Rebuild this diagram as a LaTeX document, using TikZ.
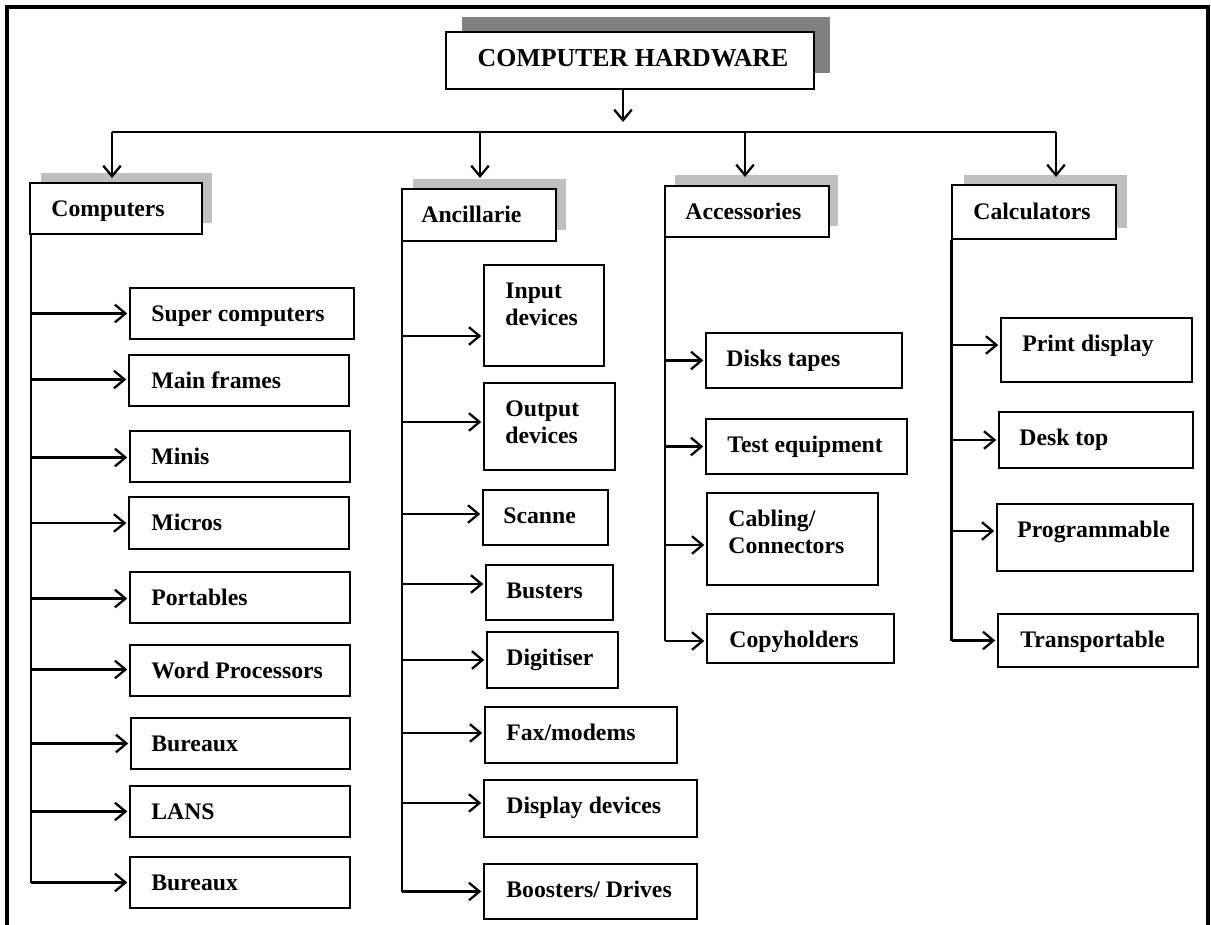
\documentclass[tikz,border=0pt]{standalone}
\usepackage{fontspec}
\setmainfont{Liberation Serif}
\usetikzlibrary{arrows.meta,fit,calc}
\begin{document}
\begin{tikzpicture}[x=0.02cm,y=-0.02cm,
  box/.style={draw=black, line width=1.1pt, fill=white, inner sep=0pt},
  topbox/.style={draw=black, line width=1.6pt, fill=white, inner sep=0pt},
  darkshadow/.style={fill=black!50, draw=none, inner sep=0pt},
  lightshadow/.style={fill=black!25, draw=none, inner sep=0pt},
  lbl/.style={anchor=base west, inner sep=0pt, font=\fontsize{13.5}{15.3}\selectfont\bfseries, align=left},
  conn/.style={line width=1.3pt},
  arr/.style={conn, -{Straight Barb[length=6pt,width=10pt,line width=1.3pt]}, shorten >=1pt},
  frame/.style={line width=1.9pt}]

\useasboundingbox (0,0) rectangle (1211,924);

% outer frame (open at the bottom)
\draw[frame] (7,930) -- (7,7) -- (1208,7) -- (1208,930);

% ---------- title ----------
\node[darkshadow, fit={(462,17) (830,73)}] (title-sh) {};
\node[topbox, fit={(446,32) (814,89)}] (title) {};
\node[anchor=base, inner sep=0pt, font=\fontsize{14.7}{17}\selectfont\bfseries] (title-l)
  at ($(title.north)+(3,36)$) {COMPUTER HARDWARE};

% ---------- category boxes ----------
\node[lightshadow, fit={(41,173) (212,223)}] (comp-sh) {};
\node[box, fit={(30,183) (202,234)}] (comp) {};
\node[lbl] (comp-l) at ($(comp.north west)+(22,34)$) {Computers};

\node[lightshadow, fit={(413,179) (566,230)}] (anc-sh) {};
\node[box, fit={(402,189) (556,241)}] (anc) {};
\node[lbl] (anc-l) at ($(anc.north west)+(20,34)$) {Ancillarie};

\node[lightshadow, fit={(675,175) (838,226)}] (acc-sh) {};
\node[box, fit={(665,186) (829,237)}] (acc) {};
\node[lbl] (acc-l) at ($(acc.north west)+(21,34)$) {Accessories};

\node[lightshadow, fit={(964,175) (1127,228)}] (calc-sh) {};
\node[box, fit={(952,185) (1116,239)}] (calc) {};
\node[lbl] (calc-l) at ($(calc.north west)+(22,35)$) {Calculators};

% ---------- distribution bus ----------
\coordinate (tip0) at (623,122);
\draw[arr, shorten >=0pt] (title.south -| tip0) -- (tip0);
\coordinate (bus-a) at (112,132);
\coordinate (bus-b) at (480,132);
\coordinate (bus-c) at (745,132);
\coordinate (bus-d) at (1056,132);
\coordinate (tip-a) at (112,178);
\coordinate (tip-b) at (480,178);
\coordinate (tip-c) at (745,177);
\coordinate (tip-d) at (1056,177);
\draw[conn] (bus-a) -- (bus-d);
\draw[arr, shorten >=0pt] (bus-a) -- (tip-a);
\draw[arr, shorten >=0pt] (bus-b) -- (tip-b);
\draw[arr, shorten >=0pt] (bus-c) -- (tip-c);
\draw[arr, shorten >=0pt] (bus-d) -- (tip-d);

% ---------- Computers ----------
\node[box, fit={(130,288) (354,339)}] (sc) {};
\node[lbl] (sc-l) at ($(sc.north west)+(22,34)$) {Super computers};
\node[box, fit={(129,355) (349,406)}] (mf) {};
\node[lbl] (mf-l) at ($(mf.north west)+(23,34)$) {Main frames};
\node[box, fit={(130,431) (350,482)}] (mn) {};
\node[lbl] (mn-l) at ($(mn.north west)+(22,34)$) {Minis};
\node[box, fit={(129,497) (349,549)}] (mc) {};
\node[lbl] (mc-l) at ($(mc.north west)+(23,34)$) {Micros};
\node[box, fit={(130,572) (350,623)}] (pt) {};
\node[lbl] (pt-l) at ($(pt.north west)+(22,34)$) {Portables};
\node[box, fit={(130,645) (350,696)}] (wp) {};
\node[lbl] (wp-l) at ($(wp.north west)+(22,34)$) {Word Processors};
\node[box, fit={(131,718) (350,769)}] (bua) {};
\node[lbl] (bua-l) at ($(bua.north west)+(21,34)$) {Bureaux};
\node[box, fit={(130,786) (350,837)}] (ln) {};
\node[lbl] (ln-l) at ($(ln.north west)+(22,34)$) {LANS};
\node[box, fit={(130,857) (350,908)}] (bub) {};
\node[lbl] (bub-l) at ($(bub.north west)+(22,34)$) {Bureaux};

\coordinate (comp-t) at ($(comp.south west)+(2,0)$);
\foreach \n/\d in {sc/0, mf/-1, mn/1, mc/0, pt/1, wp/-1, bua/0, ln/0, bub/0} {
  \coordinate (\n-in) at ($(\n.west)+(0,\d)$);
  \draw[arr] (comp-t |- \n-in) -- (\n-in);
}
\draw[conn] (comp-t) -- (comp-t |- bub-in);

% ---------- Ancillarie ----------
% two-line labels are placed by the baseline of their last line
\node[box, fit={(484,265) (604,366)}] (inp) {};
\node[lbl] (inp-l) at ($(inp.north west)+(22,61)$) {Input\\devices};
\node[box, fit={(484,383) (615,470)}] (outp) {};
\node[lbl] (outp-l) at ($(outp.north west)+(22,61)$) {Output\\devices};
\node[box, fit={(483,490) (608,545)}] (sca) {};
\node[lbl] (sca-l) at ($(sca.north west)+(21,34)$) {Scanne};
\node[box, fit={(486,565) (613,620)}] (bus) {};
\node[lbl] (bus-l) at ($(bus.north west)+(21,34)$) {Busters};
\node[box, fit={(487,632) (618,688)}] (dig) {};
\node[lbl] (dig-l) at ($(dig.north west)+(20,34)$) {Digitiser};
\node[box, fit={(485,707) (677,763)}] (fax) {};
\node[lbl] (fax-l) at ($(fax.north west)+(22,34)$) {Fax/modems};
\node[box, fit={(484,780) (697,837)}] (dsp) {};
\node[lbl] (dsp-l) at ($(dsp.north west)+(23,34)$) {Display devices};
\node[box, fit={(484,864) (697,919)}] (boo) {};
\node[lbl] (boo-l) at ($(boo.north west)+(23,34)$) {Boosters/ Drives};

\coordinate (anc-t) at ($(anc.south west)+(1,0)$);
\foreach \n/\d in {inp/20.5, outp/-4.5, sca/-3.5, bus/-8.5, dig/0, fax/-2, dsp/-5.5, boo/0} {
  \coordinate (\n-in) at ($(\n.west)+(0,\d)$);
  \draw[arr] (anc-t |- \n-in) -- (\n-in);
}
\draw[conn] (anc-t) -- (anc-t |- boo-in);

% ---------- Accessories ----------
\node[box, fit={(706,333) (902,388)}] (dt) {};
\node[lbl] (dt-l) at ($(dt.north west)+(21,34)$) {Disks tapes};
\node[box, fit={(706,419) (907,474)}] (te) {};
\node[lbl] (te-l) at ($(te.north west)+(22,34)$) {Test equipment};
\node[box, fit={(707,493) (878,585)}] (cb) {};
\node[lbl] (cb-l) at ($(cb.north west)+(22,61)$) {Cabling/\\Connectors};
\node[box, fit={(707,614) (894,663)}] (cp) {};
\node[lbl] (cp-l) at ($(cp.north west)+(23,34)$) {Copyholders};

\coordinate (acc-t) at ($(acc.south west)+(1,0)$);
\foreach \n/\d in {dt/0, te/0, cb/6, cp/2.5} {
  \coordinate (\n-in) at ($(\n.west)+(0,\d)$);
  \draw[arr] (acc-t |- \n-in) -- (\n-in);
}
\draw[conn] (acc-t) -- (acc-t |- cp-in);

% ---------- Calculators ----------
\node[box, fit={(1001,318) (1192,382)}] (pd) {};
\node[lbl] (pd-l) at ($(pd.north west)+(22,34)$) {Print display};
\node[box, fit={(999,412) (1193,468)}] (dk) {};
\node[lbl] (dk-l) at ($(dk.north west)+(21,34)$) {Desk top};
\node[box, fit={(997,504) (1193,571)}] (pg) {};
\node[lbl] (pg-l) at ($(pg.north west)+(21,34)$) {Programmable};
\node[box, fit={(998,614) (1198,667)}] (tr) {};
\node[lbl] (tr-l) at ($(tr.north west)+(23,34)$) {Transportable};

\coordinate (calc-t) at ($(calc.south west)+(0.5,0)$);
\foreach \n/\d in {pd/-5, dk/0, pg/-6.5, tr/0} {
  \coordinate (\n-in) at ($(\n.west)+(0,\d)$);
  \draw[arr] (calc-t |- \n-in) -- (\n-in);
}
\draw[conn] (calc-t) -- (calc-t |- tr-in);

\end{tikzpicture}
\end{document}
